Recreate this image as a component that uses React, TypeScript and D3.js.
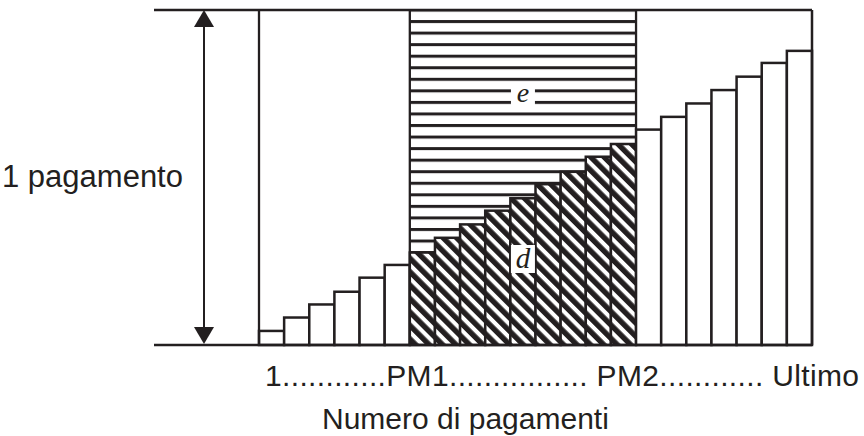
import React from 'react';
import * as d3 from 'd3';

// Payment numbers (one bar each)
const payments = ["1","2","3","4","5","6","7","8","9","10","11","12","13","14","15","16","17","18","19","20","21","22"];
// Principal part of each payment, as a fraction of one payment
const principal = [0.042,0.082,0.121,0.159,0.201,0.239,0.276,0.320,0.360,0.401,0.438,0.480,0.517,0.562,0.600,0.643,0.681,0.721,0.761,0.801,0.842,0.878];
// PM1 and PM2 (first and last payment of the highlighted range)
const pm1 = "7";
const pm2 = "15";
// Texts
const axisTicks = ["1", "PM1", "PM2", "Ultimo"];
const tickDots = ["............", "................ ", "............ "];
const yLabel = "1 pagamento";
const xTitle = "Numero di pagamenti";
const interestLabel = "e";
const principalLabel = "d";

const INK = "#231f20";
const SANS = "'Liberation Sans', Arial, Helvetica, sans-serif";
const SERIF = "'Liberation Serif', 'Times New Roman', serif";

export default function App() {
  const W = 864, H = 436;
  const x = d3.scaleBand<string>().domain(payments).range([259, 812]).padding(0);
  const y = d3.scaleLinear().domain([0, 1]).range([345, 10]);
  const bw = x.bandwidth();
  const i1 = payments.indexOf(pm1);
  const i2 = payments.indexOf(pm2);
  const xa = x(pm1)!;
  const xb = x(pm2)! + bw;
  const xEnd = x(payments[payments.length - 1])! + bw;
  const stripePeriod = (y(0) - y(1)) / 29;
  const labelX = (xa + xb) / 2;
  const tickText = axisTicks.map((t, i) => t + (tickDots[i] ?? "")).join("");

  return (
    <svg width={W} height={H} style={{ position: 'absolute', left: 0, top: 0, background: '#fff' }}>
      <defs>
        <pattern id="hstripes" patternUnits="userSpaceOnUse" x={0} y={y(1) - 1.5} width={20} height={stripePeriod}>
          <rect x={0} y={0} width={20} height={stripePeriod} fill="#fff" />
          <rect x={0} y={0} width={20} height={3} fill={INK} />
        </pattern>
        <pattern id="hatch" patternUnits="userSpaceOnUse" width={9.5} height={9.5} patternTransform="rotate(-45)">
          <rect x={0} y={0} width={9.5} height={9.5} fill="#fff" />
          <rect x={0} y={0} width={5.4} height={9.5} fill={INK} />
        </pattern>
      </defs>
      <rect x={0} y={0} width={W} height={H} fill="#fff" />

      {/* interest region (striped) */}
      <rect x={xa} y={y(1)} width={xb - xa} height={y(0) - y(1)} fill="url(#hstripes)" />

      {/* bars */}
      {payments.map((p, i) => {
        const hatched = i >= i1 && i <= i2;
        return (
          <rect key={p} x={x(p)} y={y(principal[i])} width={bw} height={y(0) - y(principal[i])}
            fill={hatched ? "url(#hatch)" : "#fff"} stroke={INK} strokeWidth={2.5} />
        );
      })}

      {/* frame */}
      <line x1={154} x2={xEnd} y1={y(1)} y2={y(1)} stroke={INK} strokeWidth={2.5} />
      <line x1={154} x2={xEnd} y1={y(0)} y2={y(0)} stroke={INK} strokeWidth={2.5} />
      <line x1={x(payments[0])} x2={x(payments[0])} y1={y(1)} y2={y(0)} stroke={INK} strokeWidth={2.3} />
      <line x1={xa} x2={xa} y1={y(1)} y2={y(0)} stroke={INK} strokeWidth={2.3} />
      <line x1={xb} x2={xb} y1={y(1)} y2={y(principal[i2 + 1])} stroke={INK} strokeWidth={2.3} />
      <line x1={xEnd} x2={xEnd} y1={y(1)} y2={y(0)} stroke={INK} strokeWidth={2.5} />

      {/* double arrow */}
      <line x1={204} x2={204} y1={y(1) + 15} y2={y(0) - 15} stroke={INK} strokeWidth={2} />
      <path d={`M204,${y(1)} L214,${y(1) + 17} L194,${y(1) + 17} Z`} fill={INK} />
      <path d={`M204,${y(0) - 1} L214,${y(0) - 18} L194,${y(0) - 18} Z`} fill={INK} />

      {/* labels e and d */}
      <rect x={labelX - 12} y={84} width={24} height={22} fill="#fff" />
      <text x={labelX} y={102} textAnchor="middle" fontFamily={SERIF} fontStyle="italic" fontSize={28} fill={INK}>{interestLabel}</text>
      <rect x={labelX - 12} y={245} width={24} height={28} fill="#fff" />
      <text x={labelX} y={268} textAnchor="middle" fontFamily={SERIF} fontStyle="italic" fontSize={29} fill={INK}>{principalLabel}</text>

      {/* texts */}
      <text x={2} y={187} fontFamily={SANS} fontSize={31} fill={INK}>{yLabel}</text>
      <text x={265} y={386} fontFamily={SANS} fontSize={30} fill={INK} textLength={594} lengthAdjust="spacing">{tickText}</text>
      <text x={322} y={429} fontFamily={SANS} fontSize={30} fill={INK}>{xTitle}</text>
    </svg>
  );
}
